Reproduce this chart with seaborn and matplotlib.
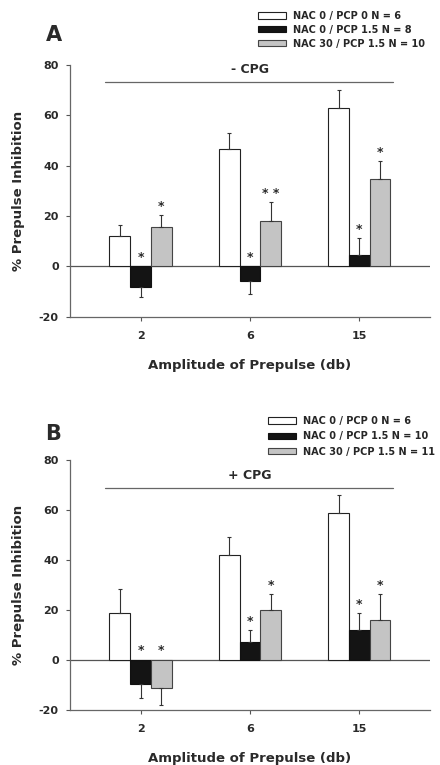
import numpy as np
import pandas as pd
import matplotlib
matplotlib.use("Agg")
import matplotlib.pyplot as plt
import seaborn as sns
from matplotlib.patches import Patch

sns.set_theme(style="ticks")
plt.rcParams['font.family'] = ['DejaVu Sans']
plt.rcParams['font.weight'] = 'bold'
plt.rcParams['axes.unicode_minus'] = False

# --- dados ---
amplitudes = ['2', '6', '15']

grupos_a = ['NAC 0 / PCP 0 N = 6', 'NAC 0 / PCP 1.5 N = 8', 'NAC 30 / PCP 1.5 N = 10']
a_branco = [12, 46.5, 63]
a_branco_err = [4.5, 6.5, 7]
a_preto = [-8.3, -6, 4.4]
a_preto_err = [3.7, 5, 7]
a_cinza = [15.5, 18, 34.8]
a_cinza_err = [5, 7.5, 7.2]
a_estrelas = [['', '', ''], ['*', '*', '*'], ['*', '* *', '*']]

grupos_b = ['NAC 0 / PCP 0 N = 6', 'NAC 0 / PCP 1.5 N = 10', 'NAC 30 / PCP 1.5 N = 11']
b_branco = [18.7, 42, 58.7]
b_branco_err = [9.7, 7, 7.3]
b_preto = [-9.8, 7.3, 12]
b_preto_err = [5.5, 4.7, 6.8]
b_cinza = [-11.2, 20, 16]
b_cinza_err = [6.8, 6.5, 10.4]
b_estrelas = [['', '', ''], ['*', '*', '*'], ['*', '*', '*']]

cores = ['white', '#141414', '#c4c4c4']
bordas = ['#222222', '#111111', '#444444']
txt_cor = '#2a2a2a'


def painel(ax, grupos, valores, erros, estrelas, cpg, leg, letra):
    linhas = []
    for g, vals in zip(grupos, valores):
        for amp, v in zip(amplitudes, vals):
            linhas.append({'amp': amp, 'grupo': g, 'pi': v})
    df = pd.DataFrame(linhas)

    sns.barplot(data=df, x='amp', y='pi', hue='grupo', hue_order=grupos,
                order=amplitudes, palette=cores, width=0.57, errorbar=None,
                legend=False, ax=ax)

    for cont, errs, strs, cor_b in zip(ax.containers, erros, estrelas, bordas):
        for p, e, s in zip(cont.patches, errs, strs):
            p.set_edgecolor(cor_b)
            p.set_linewidth(0.8)
            xc = p.get_x() + p.get_width() / 2
            h = p.get_height()
            sinal = 1 if h >= 0 else -1
            ax.errorbar(xc, h, yerr=[[e if sinal < 0 else 0], [e if sinal > 0 else 0]],
                        fmt='none', ecolor='#333333', elinewidth=0.8, capsize=1.5, capthick=0.8)
            if s:
                ytxt = h + e + 0.8 if h >= 0 else 1.0
                ax.text(xc, ytxt, s, ha='center', va='bottom', fontsize=9,
                        color=txt_cor, fontweight='bold')

    ax.axhline(0, color='#555555', lw=0.9, zorder=0.5)
    ax.set_ylim(-20, 80)
    ax.set_xlim(-0.645, 2.645)
    ax.set_yticks([-20, 0, 20, 40, 60, 80])
    ax.tick_params(axis='both', labelsize=8, colors='#555555', labelcolor=txt_cor,
                   length=3, width=0.8)
    ax.tick_params(axis='x', pad=7)
    ax.tick_params(axis='y', pad=5)
    for lab in ax.get_xticklabels() + ax.get_yticklabels():
        lab.set_fontweight('bold')
    sns.despine(ax=ax)
    for lado in ['left', 'bottom']:
        ax.spines[lado].set_color('#666666')
        ax.spines[lado].set_linewidth(0.9)

    ax.set_xlabel('Amplitude of Prepulse (db)', fontsize=9.5, fontweight='bold',
                  color=txt_cor, labelpad=13)
    ax.set_ylabel('% Prepulse Inhibition', fontsize=9.5, fontweight='bold',
                  color=txt_cor, labelpad=10)

    # linha de condição (-CPG / +CPG)
    ax.axhline(cpg[1], xmin=0.097, xmax=0.897, color='#666666', lw=0.9)
    ax.text(1, cpg[1] + 5, cpg[0], ha='center', va='center',
            fontsize=9, fontweight='bold', color=txt_cor)

    handles = [Patch(facecolor=c, edgecolor=b, linewidth=0.8) for c, b in zip(cores, bordas)]
    ax.legend(handles, grupos, loc='upper left', bbox_to_anchor=leg[0],
              frameon=False, fontsize=7, handlelength=2.9, handleheight=0.6,
              labelspacing=leg[1], handletextpad=0.7, borderaxespad=0, borderpad=0)
    ax.text(letra[1][0], letra[1][1], letra[0], transform=ax.transAxes, fontsize=15,
            fontweight='bold', color=txt_cor, ha='center', va='center')


fig = plt.figure(figsize=(4.4, 7.65), dpi=100)
ax_a = fig.add_axes([0.159, 0.586, 0.818, 0.329])
ax_b = fig.add_axes([0.159, 0.072, 0.818, 0.327])

painel(ax_a, grupos_a, [a_branco, a_preto, a_cinza],
       [a_branco_err, a_preto_err, a_cinza_err], a_estrelas,
       ('- CPG', 73.3), ((0.522, 1.215), 0.4), ('A', (-0.045, 1.12)))
painel(ax_b, grupos_b, [b_branco, b_preto, b_cinza],
       [b_branco_err, b_preto_err, b_cinza_err], b_estrelas,
       ('+ CPG', 68.8), ((0.55, 1.175), 0.55), ('B', (-0.047, 1.104)))

fig.savefig('out.png', dpi=100)
